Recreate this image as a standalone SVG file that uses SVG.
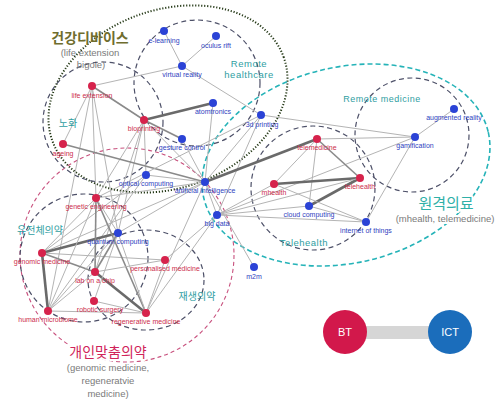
<svg xmlns="http://www.w3.org/2000/svg" width="501" height="401" viewBox="0 0 501 401">
<defs>
<style>
.bg{fill:#ffffff}
.e{stroke:#b4b4b4;stroke-width:1;fill:none}
.m{stroke:#8a8a8a;stroke-width:1.6;fill:none}
.t{stroke:#6a6a6a;stroke-width:2.6;fill:none}
.ring{fill:none;stroke:#4d5068;stroke-width:1.2;stroke-dasharray:5 3.5}
.teal{fill:none;stroke:#25b3b8;stroke-width:1.6;stroke-dasharray:5 3}
.mag{fill:none;stroke:#c8517e;stroke-width:1.1;stroke-dasharray:4 3}
.dot{fill:none;stroke:#263a18;stroke-width:2;stroke-dasharray:1.2 1.8}
.r circle{fill:#d6234c}
.b circle{fill:#2b43d6}
.r text{fill:#cc2d4c}
.b text{fill:#2f42c0}
.n text{font-family:"Liberation Sans Narrow","Liberation Sans",Arial,sans-serif;font-size:7px;text-anchor:middle}
.g{font-family:"Liberation Sans","DejaVu Sans",sans-serif;text-anchor:middle;fill:#2f9ea2;letter-spacing:0.5px}
.k{font-family:"Noto Sans CJK KR","Noto Sans",sans-serif;text-anchor:middle}
.gray{font-family:"Liberation Sans","DejaVu Sans",sans-serif;text-anchor:middle;fill:#7a7a7a;font-size:9.5px}
.halo{paint-order:stroke;stroke:#ffffff;stroke-width:4;stroke-linejoin:round}
</style>
</defs>
<rect class="bg" x="0" y="0" width="501" height="401"/>

<g id="rings">
<ellipse class="dot" cx="168" cy="99" rx="123" ry="89" transform="rotate(-20 168 99)"/>
<ellipse class="teal" cx="346" cy="165" rx="146" ry="98" transform="rotate(-13 346 165)"/>
<circle class="mag" cx="127" cy="255" r="107"/>
<circle class="ring" cx="103" cy="122" r="60"/>
<circle class="ring" cx="197" cy="83" r="63"/>
<circle class="ring" cx="412" cy="135" r="57"/>
<circle class="ring" cx="313" cy="188" r="62"/>
<circle class="ring" cx="84" cy="258" r="64"/>
<ellipse class="ring" cx="146" cy="280" rx="58" ry="50"/>
</g>

<g id="connectors">
<line class="e" x1="164" y1="31" x2="182" y2="66"/>
<line class="e" x1="216" y1="36" x2="182" y2="66"/>
<line class="e" x1="92" y1="86" x2="182" y2="66"/>
<line class="e" x1="182" y1="66" x2="261" y2="115"/>
<line class="t" x1="144" y1="120" x2="213" y2="103"/>
<line class="e" x1="213" y1="103" x2="205" y2="182"/>
<line class="m" x1="92" y1="86" x2="144" y2="120"/>
<line class="m" x1="144" y1="120" x2="182" y2="139"/>
<line class="e" x1="144" y1="120" x2="205" y2="182"/>
<line class="e" x1="144" y1="120" x2="146" y2="175"/>
<line class="e" x1="144" y1="120" x2="96" y2="198"/>
<line class="e" x1="144" y1="120" x2="118" y2="233"/>
<line class="e" x1="144" y1="120" x2="95" y2="272"/>
<line class="e" x1="92" y1="86" x2="96" y2="198"/>
<line class="e" x1="92" y1="86" x2="118" y2="233"/>
<line class="e" x1="92" y1="86" x2="63" y2="144"/>
<line class="e" x1="92" y1="86" x2="48" y2="311"/>
<line class="m" x1="63" y1="144" x2="205" y2="182"/>
<line class="e" x1="182" y1="139" x2="205" y2="182"/>
<line class="e" x1="146" y1="175" x2="205" y2="182"/>
<line class="e" x1="261" y1="115" x2="415" y2="137"/>
<line class="e" x1="261" y1="115" x2="205" y2="182"/>
<line class="e" x1="261" y1="115" x2="217" y2="215"/>
<line class="e" x1="261" y1="115" x2="96" y2="198"/>
<line class="e" x1="317" y1="139" x2="415" y2="137"/>
<line class="e" x1="454" y1="109" x2="415" y2="137"/>
<line class="e" x1="415" y1="137" x2="217" y2="215"/>
<line class="e" x1="415" y1="137" x2="366" y2="222"/>
<line class="t" x1="205" y1="182" x2="317" y2="139"/>
<line class="m" x1="317" y1="139" x2="360" y2="178"/>
<line class="e" x1="317" y1="139" x2="274" y2="184"/>
<line class="e" x1="317" y1="139" x2="309" y2="206"/>
<line class="t" x1="274" y1="184" x2="360" y2="178"/>
<line class="t" x1="360" y1="178" x2="309" y2="206"/>
<line class="e" x1="274" y1="184" x2="366" y2="222"/>
<line class="e" x1="217" y1="215" x2="360" y2="178"/>
<line class="e" x1="217" y1="215" x2="274" y2="184"/>
<line class="e" x1="217" y1="215" x2="309" y2="206"/>
<line class="e" x1="217" y1="215" x2="366" y2="222"/>
<line class="e" x1="309" y1="206" x2="366" y2="222"/>
<line class="e" x1="205" y1="182" x2="217" y2="215"/>
<line class="e" x1="205" y1="182" x2="254" y2="267"/>
<line class="e" x1="42" y1="253" x2="205" y2="182"/>
<line class="e" x1="42" y1="253" x2="146" y2="175"/>
<line class="e" x1="118" y1="233" x2="205" y2="182"/>
<line class="e" x1="96" y1="198" x2="205" y2="182"/>
<line class="e" x1="146" y1="313" x2="205" y2="182"/>
<line class="e" x1="146" y1="313" x2="217" y2="215"/>
<line class="e" x1="165" y1="260" x2="217" y2="215"/>
<line class="e" x1="48" y1="311" x2="146" y2="175"/>
<line class="t" x1="42" y1="253" x2="48" y2="311"/>
<line class="t" x1="42" y1="253" x2="118" y2="233"/>
<line class="m" x1="42" y1="253" x2="95" y2="272"/>
<line class="e" x1="42" y1="253" x2="165" y2="260"/>
<line class="e" x1="42" y1="253" x2="96" y2="198"/>
<line class="t" x1="95" y1="272" x2="146" y2="313"/>
<line class="m" x1="96" y1="198" x2="95" y2="272"/>
<line class="m" x1="96" y1="198" x2="146" y2="313"/>
<line class="e" x1="96" y1="198" x2="118" y2="233"/>
<line class="e" x1="96" y1="198" x2="48" y2="311"/>
<line class="m" x1="118" y1="233" x2="95" y2="272"/>
<line class="e" x1="118" y1="233" x2="94" y2="301"/>
<line class="e" x1="118" y1="233" x2="146" y2="313"/>
<line class="e" x1="118" y1="233" x2="48" y2="311"/>
<line class="e" x1="48" y1="311" x2="95" y2="272"/>
<line class="e" x1="48" y1="311" x2="146" y2="313"/>
<line class="e" x1="94" y1="301" x2="146" y2="313"/>
<line class="e" x1="95" y1="272" x2="165" y2="260"/>
<line class="e" x1="146" y1="313" x2="165" y2="260"/>
</g>

<g id="group-labels">
<text class="k" x="90" y="43" font-size="14" font-weight="bold" fill="#6f6d2e">건강디바이스</text>
<text class="gray" x="90" y="56">(life extension</text>
<text class="gray" x="91" y="68">bigoie)</text>
<text class="g" x="249" y="67" font-size="9.5">Remote</text>
<text class="g" x="249" y="78" font-size="9.5">healthcare</text>
<text class="k" x="68" y="127" font-size="10" fill="#2f9ea2">노화</text>
<text class="g" x="382" y="102" font-size="9">Remote medicine</text>
<text class="g" x="304" y="246" font-size="9.5">Telehealth</text>
<text class="k halo" x="446" y="209" font-size="15" fill="#2fb0a8">원격의료</text>
<text class="gray halo" x="445" y="222">(mhealth, telemedicine)</text>
<text class="k" x="40" y="234" font-size="10" fill="#2f9ea2">유전체의약</text>
<text class="k" x="197" y="300" font-size="10" fill="#2f9ea2">재생의약</text>
<text class="k halo" x="108" y="357" font-size="14" fill="#d0245a">개인맞춤의약</text>
<text class="gray" x="108" y="371">(genomic medicine,</text>
<text class="gray" x="108" y="384">regeneratvie</text>
<text class="gray" x="108" y="397">medicine)</text>
</g>

<g id="n-elearning" class="n b"><circle cx="164" cy="31" r="4"/><text x="164" y="43">e-learning</text></g>
<g id="n-oculus" class="n b"><circle cx="216" cy="36" r="4"/><text x="216" y="48">oculus rift</text></g>
<g id="n-vr" class="n b"><circle cx="182" cy="66" r="4"/><text x="182" y="77">virtual reality</text></g>
<g id="n-atom" class="n b"><circle cx="213" cy="103" r="4"/><text x="213" y="114">atomtronics</text></g>
<g id="n-3d" class="n b"><circle cx="261" cy="115" r="4"/><text x="262" y="127">3d printing</text></g>
<g id="n-life" class="n r"><circle cx="92" cy="86" r="4"/><text x="92" y="98">life extension</text></g>
<g id="n-bio" class="n r"><circle cx="144" cy="120" r="4"/><text x="144" y="131">bioprinting</text></g>
<g id="n-gesture" class="n b"><circle cx="182" cy="139" r="4"/><text x="182" y="150">gesture control</text></g>
<g id="n-ageing" class="n r"><circle cx="63" cy="144" r="4"/><text x="63" y="156">ageing</text></g>
<g id="n-optical" class="n b"><circle cx="146" cy="175" r="4"/><text x="146" y="186">optical computing</text></g>
<g id="n-ai" class="n b"><circle cx="205" cy="182" r="4"/><text x="205" y="193">artificial intelligence</text></g>
<g id="n-genetic" class="n r"><circle cx="96" cy="198" r="4"/><text x="96" y="209">genetic engineering</text></g>
<g id="n-quantum" class="n b"><circle cx="118" cy="233" r="4"/><text x="118" y="244">quantum computing</text></g>
<g id="n-genomic" class="n r"><circle cx="42" cy="253" r="4"/><text x="42" y="264">genomic medicine</text></g>
<g id="n-personal" class="n r"><circle cx="165" cy="260" r="4"/><text x="165" y="271">personalised medicine</text></g>
<g id="n-lab" class="n r"><circle cx="95" cy="272" r="4"/><text x="95" y="283">lab on a chip</text></g>
<g id="n-robotic" class="n r"><circle cx="94" cy="301" r="4"/><text x="100" y="312">robotic surgery</text></g>
<g id="n-microbiome" class="n r"><circle cx="48" cy="311" r="4"/><text x="48" y="322">human microbiome</text></g>
<g id="n-regen" class="n r"><circle cx="146" cy="313" r="4"/><text x="146" y="324">regenerative medicine</text></g>
<g id="n-bigdata" class="n b"><circle cx="217" cy="215" r="4"/><text x="217" y="226">big data</text></g>
<g id="n-m2m" class="n b"><circle cx="254" cy="267" r="4"/><text x="254" y="279">m2m</text></g>
<g id="n-telemed" class="n r"><circle cx="317" cy="139" r="4"/><text x="317" y="150">telemedicine</text></g>
<g id="n-gamif" class="n b"><circle cx="415" cy="137" r="4"/><text x="415" y="148">gamification</text></g>
<g id="n-ar" class="n b"><circle cx="454" cy="109" r="4"/><text x="454" y="120">augmented reality</text></g>
<g id="n-mhealth" class="n r"><circle cx="274" cy="184" r="4"/><text x="274" y="195">mhealth</text></g>
<g id="n-telehealth" class="n r"><circle cx="360" cy="178" r="4"/><text x="360" y="189">telehealth</text></g>
<g id="n-cloud" class="n b"><circle cx="309" cy="206" r="4"/><text x="309" y="217">cloud computing</text></g>
<g id="n-iot" class="n b"><circle cx="366" cy="222" r="4"/><text x="366" y="233">internet of things</text></g>

<g id="legend">
<rect x="345" y="326" width="105" height="13" fill="#d6d6d6"/>
<g id="n-bt"><circle cx="345" cy="332" r="22" fill="#d2184b"/><text x="345" y="336" font-family="Liberation Sans,sans-serif" font-size="11" fill="#ffffff" text-anchor="middle">BT</text></g>
<g id="n-ict"><circle cx="450" cy="332" r="22" fill="#1b6dbb"/><text x="450" y="336" font-family="Liberation Sans,sans-serif" font-size="11" fill="#ffffff" text-anchor="middle">ICT</text></g>
</g>
</svg>
